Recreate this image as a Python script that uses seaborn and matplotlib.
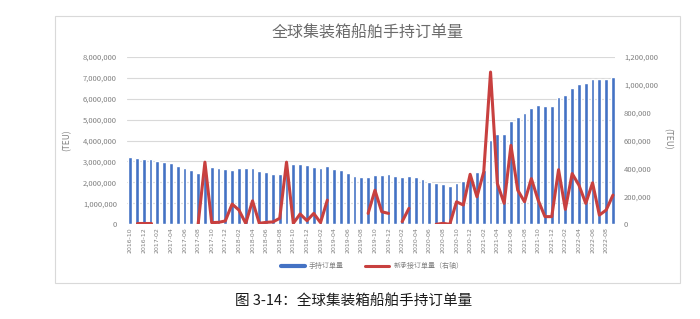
import numpy as np
import pandas as pd
import matplotlib
matplotlib.use('Agg')
import matplotlib.pyplot as plt
import seaborn as sns
from matplotlib.lines import Line2D
from matplotlib.patches import Rectangle
from matplotlib.ticker import FuncFormatter

sns.set_theme(style='white')
plt.rcParams['font.family'] = ['Noto Sans CJK SC', 'DejaVu Sans']

# ---- data ----
months = [str(p) for p in pd.period_range('2016-10', '2022-09', freq='M')]

orderbook_m = [3.19, 3.17, 3.14, 3.11, 3.03, 2.96, 2.93, 2.80, 2.71, 2.58,
               2.47, 2.78, 2.74, 2.71, 2.64, 2.60, 2.68, 2.68, 2.68, 2.54,
               2.49, 2.41, 2.38, 2.85, 2.86, 2.86, 2.82, 2.75, 2.71, 2.78,
               2.66, 2.57, 2.46, 2.31, 2.26, 2.24, 2.35, 2.35, 2.40, 2.32,
               2.24, 2.30, 2.24, 2.16, 2.03, 1.98, 1.92, 1.83, 1.95, 2.08,
               2.35, 2.51, 2.60, 4.02, 4.33, 4.33, 4.92, 5.13, 5.29, 5.57,
               5.68, 5.65, 5.63, 6.08, 6.19, 6.51, 6.71, 6.76, 6.95, 6.92,
               6.95, 7.03]

nan = np.nan
new_orders_k = [nan, 8, 8, 8, nan, nan, nan, nan, nan, nan,
                0, 445, 12, 14, 24, 145, 102, 7, 168, 7,
                14, 17, 43, 445, 7, 74, 26, 78, 12, 173,
                nan, nan, nan, nan, nan, 78, 244, 90, 78, nan,
                19, 114, nan, nan, nan, 0, 7, 0, 161, 138,
                358, 197, 375, 1090, 292, 150, 565, 244, 161, 327,
                173, 55, 55, 391, 107, 363, 280, 150, 297, 66,
                102, 209]

left_ticks = [0, 1000000, 2000000, 3000000, 4000000, 5000000, 6000000, 7000000, 8000000]
right_ticks = [0, 200000, 400000, 600000, 800000, 1000000, 1200000]

title = '全球集装箱船舶手持订单量'
caption = '图 3-14：全球集装箱船舶手持订单量'
bar_label = '手持订单量'
line_label = '新承接订单量（右轴）'

BLUE = '#4472C4'
RED = '#C8403F'
GRAY = '#808080'
GRID = '#d9d9d9'

df = pd.DataFrame({
    'month': months,
    'pos': np.arange(len(months)),
    'orderbook': np.array(orderbook_m) * 1e6,
    'new': np.array(new_orders_k, dtype=float) * 1e3,
})
df['seg'] = df['new'].isna().cumsum()
line_df = df.dropna(subset=['new'])

W, H = 700, 319
fig = plt.figure(figsize=(W / 100, H / 100), dpi=100)
fig.patch.set_facecolor('white')

x0, x1, yt, yb = 126.7, 615, 56.7, 224.3
ax = fig.add_axes([x0 / W, 1 - yb / H, (x1 - x0) / W, (yb - yt) / H])

sns.barplot(data=df, x='month', y='orderbook', order=months, color=BLUE,
            saturation=1, width=0.55, ax=ax)
ax.set_axisbelow(True)
ax.grid(axis='y', color=GRID, lw=0.8)
ax.grid(axis='x', visible=False)

ax2 = ax.twinx()
sns.lineplot(data=line_df, x='pos', y='new', units='seg', estimator=None,
             color=RED, lw=2.2, ax=ax2, legend=False)

ax.set_xlim(-0.5, 71.3)
ax.set_ylim(0, 8e6)
ax2.set_ylim(0, 1.2e6)
ax.set_yticks(left_ticks)
ax2.set_yticks(right_ticks)
fmt = FuncFormatter(lambda v, p: f'{v:,.0f}')
ax.yaxis.set_major_formatter(fmt)
ax2.yaxis.set_major_formatter(fmt)

ax.set_xticks(range(0, len(months), 2))
ax.set_xticklabels(months[::2], rotation=90, fontsize=4.5, color=GRAY,
                   family=['DejaVu Sans'])
ax.tick_params(axis='x', length=0, pad=2)
ax.tick_params(axis='y', length=0, pad=7, labelsize=5.5, labelcolor=GRAY)
ax2.tick_params(axis='y', length=0, pad=6.5, labelsize=5.5, labelcolor=GRAY)
for a in (ax, ax2):
    a.set_xlabel('')
    a.set_ylabel('')
    for s in a.spines.values():
        s.set_visible(False)
ax2.grid(False)

fig.text(67 / W, 1 - 140 / H, '(TEU)', rotation=90, ha='center', va='center',
         fontsize=6, color=GRAY)
fig.text(668 / W, 1 - 139 / H, '(TEU)', rotation=270, ha='center', va='center',
         fontsize=6, color=GRAY)

fig.text(368 / W, 1 - 33 / H, title, ha='center', va='center',
         fontsize=11.5, color='#6b6b6b')

handles = [Line2D([0], [0], color=BLUE, lw=3), Line2D([0], [0], color=RED, lw=2.2)]
fig.legend(handles, [bar_label, line_label], loc='center',
           bbox_to_anchor=(372 / W, 1 - 266 / H), ncol=2, frameon=False,
           fontsize=5, labelcolor=GRAY, handlelength=3.5, columnspacing=3,
           handletextpad=0.6)

fig.patches.append(Rectangle((55 / W, 1 - 283 / H), (680 - 55) / W, (283 - 16) / H,
                             transform=fig.transFigure, fill=False,
                             ec=GRID, lw=0.8))

fig.text(354 / W, 1 - 302 / H, caption, ha='center', va='center',
         fontsize=10.5, color='#1a1a1a')

fig.savefig('out.png', dpi=100)
